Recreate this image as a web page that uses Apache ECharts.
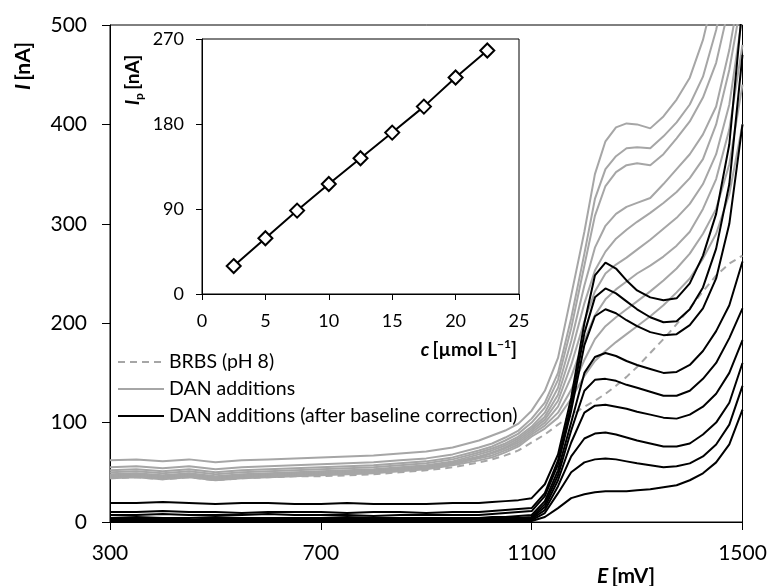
<!DOCTYPE html>
<html>
<head>
<meta charset="utf-8">
<script src="https://cdn.jsdelivr.net/npm/echarts@6/dist/echarts.min.js"></script>
<style>
html,body{margin:0;padding:0;background:#fff;}
#chart{width:770px;height:586px;}
</style>
</head>
<body>
<div id="chart"></div>
<script>
// ---- Main chart data (E in mV, I in nA) ----
const E = [300,350,400,450,500,550,600,650,700,750,800,850,900,950,1000,1025,1050,1075,1100,1125,1150,1175,1200,1220,1240,1260,1280,1300,1325,1350,1375,1400,1425,1450,1475,1500];

const brbs = [44,45,43,45,42,44,45,46,46,47,48,50,52,55,60,63,67,72,80,88,98,107,116,122,129,137,146,156,170,184,199,215,232,248,260,268];

const dan1 = [62,63,61,63,60,62,63,64,65,66,67,69,71,75,82,87,92,99,112,132,165,228,292,350,383,397,401,400,396,408,425,447,485,540,600,660];
const dan2 = [55,56,54,56,53,55,56,57,58,59,60,62,64,68,75,79,85,92,104,120,150,205,270,325,355,368,376,377,376,388,402,420,448,495,560,620];
const dan3 = [52,53,51,53,50,52,53,54,55,56,57,59,61,65,72,76,82,89,100,115,143,195,258,308,338,352,359,361,359,370,386,403,427,462,520,590];
const dan4 = [50,51,49,51,48,50,51,52,53,54,55,57,59,63,70,74,79,86,96,110,135,182,238,276,298,310,317,321,326,340,355,370,390,418,475,550];
const dan5 = [48,49,47,49,46,48,49,50,51,52,53,55,57,61,68,72,77,84,94,106,128,170,220,253,272,285,294,302,311,321,332,346,365,400,455,530];
const dan6 = [47,48,46,48,45,47,48,49,50,51,52,54,56,60,66,70,75,82,92,103,122,158,202,232,250,259,266,274,284,295,306,320,340,370,420,510];
const dan7 = [46,47,45,47,44,46,47,48,49,50,51,53,55,59,65,69,74,80,90,100,116,146,183,208,224,234,242,250,258,267,278,292,315,345,395,480];
const dan8 = [45,46,44,46,43,45,46,47,48,49,50,52,54,58,64,67,72,78,88,97,110,133,163,184,197,206,214,222,232,243,255,270,290,315,360,440];
const dan9 = [44,45,43,45,42,44,45,46,47,48,49,51,53,57,62,65,70,76,86,94,105,124,147,162,172,181,189,197,207,218,231,245,265,290,330,400];

const corr1 = [19,19,20,19,18,19,19,18,18,19,18,18,18,19,19,20,21,22,24,38,68,125,200,248,261,255,243,233,226,223,225,240,268,310,380,520];
const corr2 = [10,10,11,10,10,9,10,10,10,9,10,10,9,10,10,11,12,13,14,29,62,118,190,226,235,230,222,214,206,201,202,214,236,275,340,470];
const corr3 = [7,7,8,7,7,7,8,7,7,7,6,7,7,7,7,8,9,10,11,26,58,112,178,207,214,210,203,197,191,188,189,198,215,245,300,400];
const corr4 = [4,5,4,4,5,4,4,4,4,5,4,4,4,4,4,5,5,6,7,21,52,100,150,166,170,167,162,158,154,150,151,158,172,192,218,262];
const corr5 = [3,3,3,2,4,3,3,3,3,3,3,3,3,3,3,3,4,4,5,18,47,92,132,143,144,142,138,135,131,127,127,132,144,160,185,215];
const corr6 = [2,2,2,2,3,2,2,2,2,2,2,2,2,2,2,2,2,3,4,15,42,80,110,117,118,116,114,111,108,105,104,108,116,129,150,183];
const corr7 = [1,1,1,1,2,1,1,1,1,1,1,1,1,1,1,1,1,2,3,12,36,66,84,89,90,88,85,82,79,76,76,79,88,100,120,160];
const corr8 = [0,1,0,0,1,0,0,0,1,0,0,0,0,0,0,0,1,1,2,9,29,50,60,63,64,63,61,59,57,55,56,59,66,78,98,137];
const corr9 = [0,0,0,0,1,0,0,0,0,0,0,0,0,0,0,0,0,0,1,5,14,24,28,30,31,31,31,32,33,35,37,42,49,60,78,113];

// ---- Inset data ----
const conc = [2.5,5,7.5,10,12.5,15,17.5,20,22.5];
const peakI = [29.6,59,88.3,116.5,143.7,170.9,198.4,229.2,257.8];

// ---- Tick labels ----
const xTicks = [300,700,1100,1500];
const yTicks = [0,100,200,300,400,500];
const insetXTicks = [0,5,10,15,20,25];
const insetYTicks = [0,90,180,270];

const NAME_BRBS = 'BRBS (pH 8)';
const NAME_DAN = 'DAN additions';
const NAME_CORR = 'DAN additions (after baseline correction)';

const FONT = 'Lato';
const GRAY = '#A6A6A6';

function pairs(xs, ys){ return xs.map((x,i)=>[x, ys[i]]); }
const plain = v => String(v);

const danSets = [dan1,dan2,dan3,dan4,dan5,dan6,dan7,dan8,dan9];
const corrSets = [corr1,corr2,corr3,corr4,corr5,corr6,corr7,corr8,corr9];

const series = [];
series.push({
  name: NAME_BRBS, type:'line', xAxisIndex:0, yAxisIndex:0,
  data: pairs(E, brbs), symbol:'none', showSymbol:false,
  lineStyle:{color:GRAY, width:2, type:[7,5]}, itemStyle:{color:GRAY}, z:2
});
danSets.forEach(d => series.push({
  name: NAME_DAN, type:'line', xAxisIndex:0, yAxisIndex:0,
  data: pairs(E, d), symbol:'none', showSymbol:false,
  lineStyle:{color:GRAY, width:2}, itemStyle:{color:GRAY}, z:3
}));
corrSets.forEach(d => series.push({
  name: NAME_CORR, type:'line', xAxisIndex:0, yAxisIndex:0,
  data: pairs(E, d), symbol:'none', showSymbol:false,
  lineStyle:{color:'#000', width:2}, itemStyle:{color:'#000'}, z:4
}));
series.push({
  name:'inset', type:'line', xAxisIndex:1, yAxisIndex:1,
  data: pairs(conc, peakI), symbol:'diamond', symbolSize:14, showSymbol:true,
  lineStyle:{color:'#000', width:2},
  itemStyle:{color:'#fff', borderColor:'#000', borderWidth:2}, z:10
});

const axisLine = {show:true, lineStyle:{color:'#000', width:1}};
const option = {
  animation:false,
  backgroundColor:'#fff',
  grid:[
    {left:110, top:25, right:27.5, bottom:64, show:true, borderColor:'#000', borderWidth:1, backgroundColor:'transparent'},
    {left:202, top:39, right:251, bottom:292, show:true, borderColor:'#000', borderWidth:1, backgroundColor:'#fff', z:5}
  ],
  legend:{
    show:true, orient:'vertical', left:112, top:347,
    itemWidth:46, itemHeight:14, itemGap:7,
    data:[NAME_BRBS, NAME_DAN, NAME_CORR],
    itemStyle:{opacity:0},
    textStyle:{fontFamily:FONT, fontSize:19.5, color:'#000'}
  },
  xAxis:[
    {type:'value', gridIndex:0, min:300, max:1500,
     axisLine:axisLine,
     axisTick:{show:true, inside:false, length:8, customValues:xTicks, lineStyle:{color:'#000'}},
     axisLabel:{customValues:xTicks, formatter:plain, fontFamily:FONT, fontSize:21, color:'#000', margin:21},
     splitLine:{show:false}},
    {type:'value', gridIndex:1, min:0, max:25, interval:5,
     axisLine:axisLine,
     axisTick:{show:true, inside:false, length:6, lineStyle:{color:'#000'}},
     axisLabel:{formatter:plain, fontFamily:FONT, fontSize:18, color:'#000', margin:18},
     splitLine:{show:false}, z:6}
  ],
  yAxis:[
    {type:'value', gridIndex:0, min:0, max:500, interval:100,
     axisLine:axisLine,
     axisTick:{show:true, inside:false, length:8, lineStyle:{color:'#000'}},
     axisLabel:{formatter:plain, fontFamily:FONT, fontSize:21, color:'#000', margin:23},
     splitLine:{show:false}},
    {type:'value', gridIndex:1, min:0, max:270, interval:90,
     axisLine:axisLine,
     axisTick:{show:true, inside:false, length:6, lineStyle:{color:'#000'}},
     axisLabel:{formatter:plain, fontFamily:FONT, fontSize:18, color:'#000', margin:18},
     splitLine:{show:false}, z:6}
  ],
  graphic:[
    {type:'text', x:23, y:66, rotation:Math.PI/2, z:20,
     style:{text:'{i|I} {b|[nA]}', align:'center', verticalAlign:'middle',
       rich:{i:{fontFamily:FONT, fontSize:21, fontWeight:'bold', fontStyle:'italic', fill:'#000'},
             b:{fontFamily:FONT, fontSize:21, fontWeight:'bold', fill:'#000'}}}},
    {type:'text', x:626, y:576, z:20,
     style:{text:'{i|E} {b|[mV]}', align:'center', verticalAlign:'middle',
       rich:{i:{fontFamily:FONT, fontSize:21, fontWeight:'bold', fontStyle:'italic', fill:'#000'},
             b:{fontFamily:FONT, fontSize:21, fontWeight:'bold', fill:'#000'}}}},
    {type:'text', x:133, y:80, rotation:Math.PI/2, z:20,
     style:{text:'{i|I}{s|p} {b|[nA]}', align:'center', verticalAlign:'middle',
       rich:{i:{fontFamily:FONT, fontSize:19, fontWeight:'bold', fontStyle:'italic', fill:'#000', lineHeight:24},
             s:{fontFamily:FONT, fontSize:12, fontWeight:'bold', fill:'#000', lineHeight:12, verticalAlign:'bottom'},
             b:{fontFamily:FONT, fontSize:19, fontWeight:'bold', fill:'#000', lineHeight:24}}}},
    {type:'text', x:517, y:350, z:20,
     style:{text:'{i|c} {b|[µmol L}{s|−1}{b|]}', align:'right', verticalAlign:'middle',
       rich:{i:{fontFamily:FONT, fontSize:19, fontWeight:'bold', fontStyle:'italic', fill:'#000', lineHeight:24},
             s:{fontFamily:FONT, fontSize:12, fontWeight:'bold', fill:'#000', lineHeight:12, verticalAlign:'top'},
             b:{fontFamily:FONT, fontSize:19, fontWeight:'bold', fill:'#000', lineHeight:24}}}}
  ],
  series: series
};

const chart = echarts.init(document.getElementById('chart'), null, {renderer:'canvas', width:770, height:586});
chart.setOption(option);
</script>
</body>
</html>
